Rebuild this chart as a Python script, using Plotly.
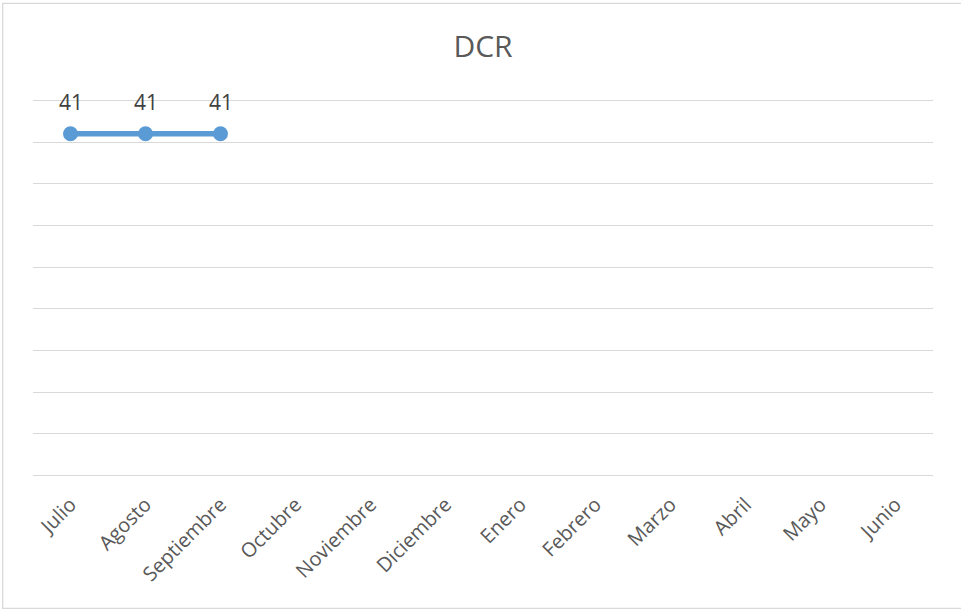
import plotly.graph_objects as go

months = ["Julio", "Agosto", "Septiembre", "Octubre", "Noviembre", "Diciembre",
          "Enero", "Febrero", "Marzo", "Abril", "Mayo", "Junio"]
dcr_values = [41, 41, 41, None, None, None, None, None, None, None, None, None]
title_text = "DCR"

W, H = 961, 611
# plot area extended by 1 unit (~8.36px) above and below the 0..45 grid
L, R, T, B = 33, 28, 91.6, 126.6
pw, ph = W - L - R, H - T - B

fig = go.Figure()
fig.add_trace(go.Scatter(
    x=months, y=dcr_values, mode="lines+markers",
    line=dict(color="#5B9BD5", width=5.5),
    marker=dict(color="#5B9BD5", size=15),
    cliponaxis=False,
    hoverinfo="skip",
    connectgaps=False,
))

for m, v in zip(months, dcr_values):
    if v is not None:
        fig.add_annotation(x=m, y=v, text=str(v), showarrow=False,
                           yshift=32, yanchor="middle", xanchor="center",
                           font=dict(family="Open Sans", size=21, color="#404040"))

def px_to_xp(px):
    return (px - L) / pw

def py_to_yp(py):
    return (H - B - py) / ph

fig.add_shape(type="rect", xref="paper", yref="paper",
              x0=px_to_xp(2.7), x1=px_to_xp(966),
              y0=py_to_yp(609), y1=py_to_yp(2.7),
              line=dict(color="#D9D9D9", width=1.3), fillcolor="rgba(0,0,0,0)",
              layer="below")

fig.update_layout(
    width=W, height=H,
    margin=dict(l=L, r=R, t=T, b=B, autoexpand=False),
    paper_bgcolor="white", plot_bgcolor="white",
    showlegend=False,
    title=dict(text=title_text, x=483 / W, xanchor="center",
               y=1 - 46 / H, yanchor="middle",
               font=dict(family="Open Sans", size=30, color="#595959")),
    xaxis=dict(type="category", categoryorder="array", categoryarray=months,
               range=[-0.5, 11.5], showgrid=False, zeroline=False, showline=False,
               ticks="", tickangle=-45, ticklabelstandoff=4,
               tickfont=dict(family="Open Sans", size=20, color="#595959")),
    yaxis=dict(range=[-1, 46], dtick=5, tick0=0, showticklabels=False,
               showgrid=True, gridcolor="#D9D9D9", gridwidth=1.3,
               zeroline=False, showline=False, ticks=""),
)

fig.write_html("out.html", config={"displayModeBar": False},
               post_script="document.body.style.margin='0';")
